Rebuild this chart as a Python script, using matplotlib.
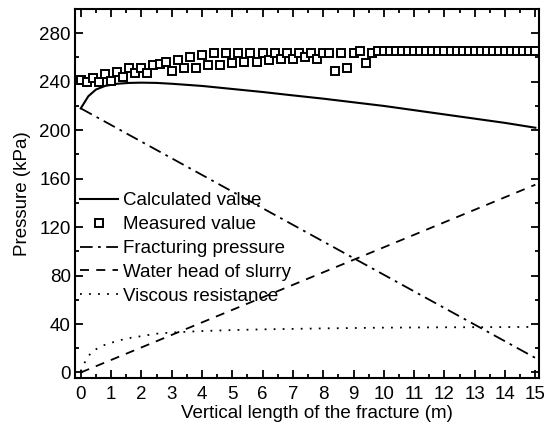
import matplotlib
matplotlib.use('Agg')
import matplotlib.pyplot as plt
import numpy as np
from matplotlib.ticker import MultipleLocator

plt.rcParams['font.family'] = ['Liberation Sans', 'DejaVu Sans']
FS = 13.5

# measured pressure, every 0.2 m
meas_x = [round(0.2 * i, 1) for i in range(76)]
meas_y = [241, 240, 243, 240, 246, 240.5, 248, 244, 251, 247.5,
          251.5, 247, 254, 255, 256, 249, 258, 251, 260, 251.5,
          262, 254, 264, 254, 264, 255.5, 264, 256.5, 264, 256.5,
          264, 258, 264, 259, 264, 259, 264, 260, 264, 258.5,
          263.5, 263.5, 249, 263.5, 251.5, 263.5, 265.5, 255.5, 263.5,
          265, 265, 265, 265, 265, 265, 265, 265, 265, 265,
          265, 265, 265, 265, 265, 265, 265, 265, 265, 265,
          265, 265, 265, 265, 265, 265, 265]

calc_x = [0, 0.25, 0.5, 0.8, 1.2, 1.6, 2, 2.5, 3, 4, 5, 6, 7, 8, 9, 10, 11, 12, 13, 14, 15]
calc_y = [218, 228, 233.5, 236.5, 238.3, 239, 239.2, 239, 238.3, 236.5, 234, 231.5,
          228.7, 226, 223, 220, 216.5, 213, 209.5, 206, 202]

frac_x = [0, 15]
frac_y = [218, 12]

head_x = [0, 15]
head_y = [0, 155]

visc_x = [0, 0.1, 0.35, 0.7, 1, 1.5, 2, 2.5, 3, 4, 5, 6, 7, 8, 9, 10, 12, 15]
visc_y = [1, 7, 17, 22, 24.5, 28, 30, 32, 33, 34.2, 35, 35.6, 36, 36.4, 36.7, 37, 37.3, 37.6]

fig = plt.figure(figsize=(5.44, 4.24), dpi=100)
ax = fig.add_axes([75/544, 1-377.7/424, 464/544, 368.7/424])

ax.plot(calc_x, calc_y, '-', color='k', lw=1.5, label='Calculated value')
ax.plot(meas_x, meas_y, 's', mfc='white', mec='k', mew=1.4, ms=5.5, ls='none', label='Measured value')
ax.plot(frac_x, frac_y, color='k', lw=1.3, ls=(0, (7, 3, 1.5, 3)), label='Fracturing pressure')
ax.plot(head_x, head_y, color='k', lw=1.3, ls=(0, (5, 4)), label='Water head of slurry')
ax.plot(visc_x, visc_y, color='k', lw=1.3, ls=(0, (1, 4)), label='Viscous resistance')

ax.set_xlim(-0.19, 15.12)
ax.set_ylim(-4.3, 300)
ax.xaxis.set_major_locator(MultipleLocator(1))
ax.xaxis.set_minor_locator(MultipleLocator(0.5))
ax.yaxis.set_major_locator(MultipleLocator(40))
ax.yaxis.set_minor_locator(MultipleLocator(20))
ax.tick_params(which='both', direction='in', top=True, right=True, labelsize=FS, width=1.3)
ax.tick_params(which='major', length=6, pad=3)
ax.tick_params(which='minor', length=3)
ax.tick_params(axis='x', which='major', pad=6)
for s in ax.spines.values():
    s.set_linewidth(1.5)

ax.set_xlabel('Vertical length of the fracture (m)', fontsize=FS, labelpad=1)
ax.xaxis.set_label_coords(0.522, -0.075)
ax.set_ylabel('Pressure (kPa)', fontsize=FS, labelpad=6)

ax.legend(loc='upper left', bbox_to_anchor=(0.011, 0.503), frameon=False, fontsize=FS,
          borderpad=0, borderaxespad=0, handlelength=2.0, handletextpad=0.3,
          labelspacing=0.36)

fig.savefig('out.png', dpi=100)
